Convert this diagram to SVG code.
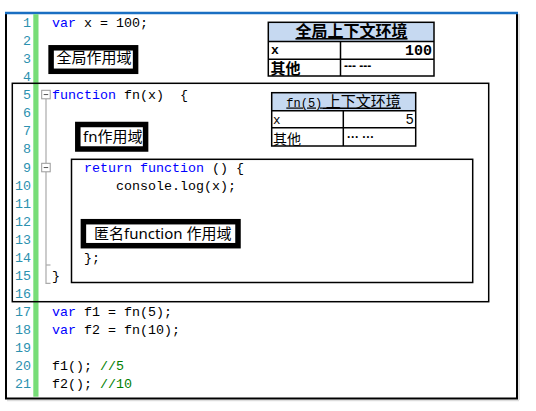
<svg xmlns="http://www.w3.org/2000/svg" width="536" height="411" viewBox="0 0 536 411">
<style>
.code{font-family:"Liberation Mono","DejaVu Sans Mono",monospace;font-size:13.33px;fill:#000;white-space:pre}
.kw{fill:#0000ff}
.cm{fill:#008000}
.ln{font-family:"Liberation Mono","DejaVu Sans Mono",monospace;font-size:13.33px;fill:#2b91af;text-anchor:end}
.scope{fill:#fff;stroke:#000;stroke-width:5.5}
.scopetxt{font-family:"Noto Sans","Noto Sans CJK SC",sans-serif;font-size:15px;fill:#000}
.frame{fill:none;stroke:#000;stroke-width:1.5}
.tbl{fill:none;stroke:#000;stroke-width:1.5}
.hdr{fill:#c6d9f1}
.cjk{font-family:"Noto Sans CJK SC",sans-serif;fill:#000}
.fold{fill:#fff;stroke:#999;stroke-width:1}
.guide{fill:none;stroke:#aaa;stroke-width:1.2}
</style>
<rect width="536" height="411" fill="#fff"/>
<g id="editor">
<line x1="519" y1="14" x2="519" y2="400" stroke="#ddd" stroke-width="1.5"/>
<line x1="7" y1="400.5" x2="519" y2="400.5" stroke="#ddd" stroke-width="1.5"/>
<rect x="6" y="13" width="511" height="385.5" fill="none" stroke="#000" stroke-width="2"/>
<line x1="5" y1="13" x2="518" y2="13" stroke="#1a6fc2" stroke-width="2.5"/>
<rect x="33.3" y="14.2" width="5.2" height="382.5" fill="#77dd77"/>
</g>
<g id="line-numbers">
<text class="ln" x="31" y="27">1</text>
<text class="ln" x="31" y="45.07">2</text>
<text class="ln" x="31" y="63.14">3</text>
<text class="ln" x="31" y="81.21">4</text>
<text class="ln" x="31" y="99.28">5</text>
<text class="ln" x="31" y="117.35">6</text>
<text class="ln" x="31" y="135.42">7</text>
<text class="ln" x="31" y="153.49">8</text>
<text class="ln" x="31" y="171.56">9</text>
<text class="ln" x="31" y="189.63">10</text>
<text class="ln" x="31" y="207.7">11</text>
<text class="ln" x="31" y="225.77">12</text>
<text class="ln" x="31" y="243.84">13</text>
<text class="ln" x="31" y="261.91">14</text>
<text class="ln" x="31" y="279.98">15</text>
<text class="ln" x="31" y="298.05">16</text>
<text class="ln" x="31" y="316.12">17</text>
<text class="ln" x="31" y="334.19">18</text>
<text class="ln" x="31" y="352.26">19</text>
<text class="ln" x="31" y="370.33">20</text>
<text class="ln" x="31" y="388.4">21</text>
</g>
<g id="folding">
<line class="guide" x1="46" y1="98.8" x2="46" y2="163.3"/>
<polyline class="guide" points="46,171.8 46,283.3 50.5,283.3"/>
<line class="guide" x1="46" y1="265" x2="50.5" y2="265"/>
<rect class="fold" x="41.7" y="90.3" width="8.5" height="8.5"/>
<line x1="43.7" y1="94.55" x2="48.2" y2="94.55" stroke="#555" stroke-width="1"/>
<rect class="fold" x="41.7" y="163.3" width="8.5" height="8.5"/>
<line x1="43.7" y1="167.55" x2="48.2" y2="167.55" stroke="#555" stroke-width="1"/>
</g>
<g id="code">
<text class="code" x="52" y="27"><tspan class="kw">var</tspan> x = 100;</text>
<text class="code" x="52" y="99.28"><tspan class="kw">function</tspan> fn(x)  {</text>
<text class="code" x="84" y="171.56"><tspan class="kw">return</tspan> <tspan class="kw">function</tspan> () {</text>
<text class="code" x="116" y="189.63">console.log(x);</text>
<text class="code" x="84" y="261.91">};</text>
<text class="code" x="52" y="279.98">}</text>
<text class="code" x="52" y="316.12"><tspan class="kw">var</tspan> f1 = fn(5);</text>
<text class="code" x="52" y="334.19"><tspan class="kw">var</tspan> f2 = fn(10);</text>
<text class="code" x="52" y="370.33">f1(); <tspan class="cm">//5</tspan></text>
<text class="code" x="52" y="388.4">f2(); <tspan class="cm">//10</tspan></text>
</g>
<g id="fn-scope-frame">
<rect class="frame" x="12.3" y="83.3" width="476.4" height="218.4"/>
</g>
<g id="anon-scope-frame">
<rect class="frame" x="71.5" y="159.3" width="401.2" height="123.2"/>
</g>
<g id="global-scope-label">
<rect class="scope" x="51.1" y="47.8" width="84.5" height="23.5"/>
<text class="scopetxt" x="56.5" y="63">全局作用域</text>
</g>
<g id="fn-scope-label">
<rect class="scope" x="77.8" y="124.5" width="67.8" height="24.5"/>
<text class="scopetxt" x="83" y="142">fn作用域</text>
</g>
<g id="anon-scope-label">
<rect class="scope" x="83.4" y="221.7" width="154.6" height="24"/>
<text class="scopetxt" x="94" y="239">匿名function 作用域</text>
</g>
<g id="global-context">
<rect class="hdr" x="268.3" y="22.3" width="165.7" height="19.2"/>
<rect class="tbl" x="268.3" y="22.3" width="165.7" height="53.7"/>
<line class="tbl" x1="268.3" y1="41.5" x2="434" y2="41.5"/>
<line class="tbl" x1="268.3" y1="59.2" x2="434" y2="59.2"/>
<line class="tbl" x1="340.5" y1="41.5" x2="340.5" y2="76"/>
<text class="cjk" x="351.5" y="37" font-size="16" font-weight="bold" text-anchor="middle" text-decoration="underline">全局上下文环境</text>
<text x="271" y="53.5" font-family="Liberation Mono,monospace" font-size="13" font-weight="bold">x</text>
<text x="432" y="54.5" font-family="Liberation Mono,monospace" font-size="15" font-weight="bold" text-anchor="end">100</text>
<text class="cjk" x="270.5" y="73.5" font-size="15" font-weight="bold">其他</text>
<text x="344" y="70" font-family="Liberation Sans,sans-serif" font-size="12" font-weight="bold">--- ---</text>
</g>
<g id="fn5-context">
<rect class="hdr" x="271.7" y="92.7" width="144" height="18"/>
<rect class="tbl" x="271.7" y="92.7" width="144" height="53.3"/>
<line class="tbl" x1="271.7" y1="110.7" x2="415.7" y2="110.7"/>
<line class="tbl" x1="271.7" y1="127.7" x2="415.7" y2="127.7"/>
<line class="tbl" x1="343.3" y1="110.7" x2="343.3" y2="146"/>
<text x="343.5" y="106.5" text-anchor="middle" text-decoration="underline" fill="#000"><tspan font-family="Liberation Mono,monospace" font-size="12">fn(5)</tspan><tspan font-family="Noto Sans CJK SC,sans-serif" font-size="15"> 上下文环境</tspan></text>
<text x="273" y="123.5" font-family="Liberation Mono,monospace" font-size="12.5">x</text>
<text x="414" y="124" font-family="Liberation Mono,monospace" font-size="14" text-anchor="end">5</text>
<text class="cjk" x="273" y="143.5" font-size="14">其他</text>
<text x="347" y="141" font-family="Liberation Sans,sans-serif" font-size="12" font-weight="bold">··· ···</text>
</g>
</svg>
